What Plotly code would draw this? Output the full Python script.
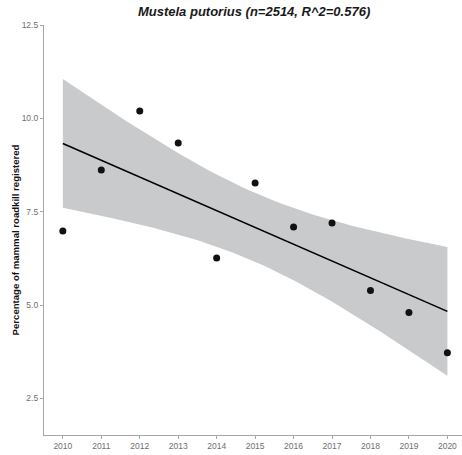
import numpy as np
import plotly.graph_objects as go

years = [2010, 2011, 2012, 2013, 2014, 2015, 2016, 2017, 2018, 2019, 2020]
pct = [6.98, 8.62, 10.2, 9.34, 6.26, 8.27, 7.09, 7.2, 5.39, 4.80, 3.72]
title = "<b><i>Mustela putorius (n=2514, R^2=0.576)</i></b>"
ytitle = "<b>Percentage of mammal roadkill registered</b>"
yticks = [2.5, 5.0, 7.5, 10.0, 12.5]
yticklabels = ["2.5", "5.0", "7.5", "10.0", "12.5"]
T975 = 2.262  # t quantile, df=9

x = np.array(years, dtype=float)
y = np.array(pct)
n = len(x)
b, a = np.polyfit(x, y, 1)
res = y - (a + b * x)
s = np.sqrt(np.sum(res**2) / (n - 2))
xg = np.linspace(x.min(), x.max(), 80)
fit = a + b * xg
se = s * np.sqrt(1 / n + (xg - x.mean())**2 / np.sum((x - x.mean())**2))
lo = fit - T975 * se
hi = fit + T975 * se

fig = go.Figure()
fig.add_trace(go.Scatter(x=np.concatenate([xg, xg[::-1]]), y=np.concatenate([hi, lo[::-1]]),
                         fill="toself", fillcolor="#c9cacc", line=dict(width=0),
                         mode="lines", hoverinfo="skip", showlegend=False))
fig.add_trace(go.Scatter(x=xg, y=fit, mode="lines", line=dict(color="black", width=1.6),
                         showlegend=False))
fig.add_trace(go.Scatter(x=years, y=pct, mode="markers",
                         marker=dict(color="#111111", size=7), showlegend=False))

fig.add_annotation(text=ytitle, textangle=-90, xref="paper", yref="paper",
                   x=-0.069, y=0.475, xanchor="center", yanchor="middle", showarrow=False,
                   font=dict(size=9.6, color="#111111"))

fig.update_layout(
    width=462, height=455,
    margin=dict(l=44, r=0, t=25, b=20),
    paper_bgcolor="white", plot_bgcolor="white",
    font=dict(family="Liberation Sans, Arial, sans-serif"),
    title=dict(text=title, x=0.55, xanchor="center", y=0.985, yanchor="top",
               font=dict(size=13, color="#1a1a1a")),
    xaxis=dict(range=[2009.51, 2020.38], tickvals=years, ticktext=[str(v) for v in years],
               showline=True, linecolor="#a6a6a6", linewidth=1.2, ticks="outside",
               tickcolor="#a6a6a6", ticklen=3, showgrid=False, zeroline=False,
               tickfont=dict(size=8.5, color="#6e6e6e")),
    yaxis=dict(range=[1.52, 12.5], tickvals=yticks, ticktext=yticklabels,
               showline=True, linecolor="#a6a6a6", linewidth=1.2, ticks="outside",
               tickcolor="#a6a6a6", ticklen=3, showgrid=False, zeroline=False,
               tickfont=dict(size=8.5, color="#6e6e6e")),
)
fig.write_html("out.html")
